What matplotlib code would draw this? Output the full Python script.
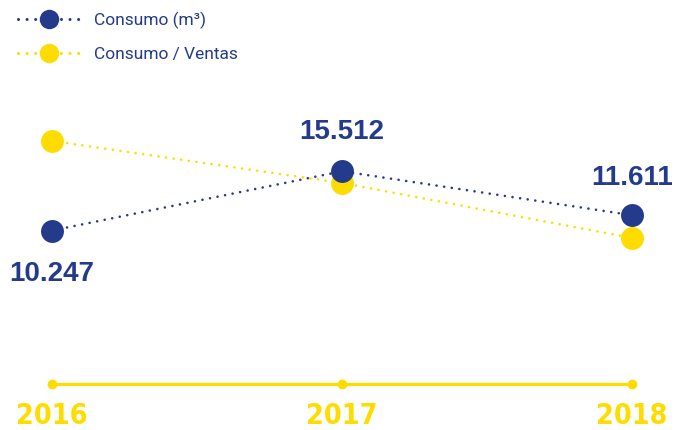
import matplotlib
matplotlib.use("Agg")
import matplotlib.pyplot as plt
from matplotlib.lines import Line2D

# data
years = ["2016", "2017", "2018"]
consumo = [10.247, 15.512, 11.611]
consumo_ventas = [0.84, 0.71, 0.54]
consumo_labels = ["10.247", "15.512", "11.611"]

BLUE = "#243b8c"
YELLOW = "#ffdc00"

fig = plt.figure(figsize=(6.75, 4.3), dpi=100)
ax = fig.add_axes([0, 0, 1, 1])
ax2 = ax.twinx()

x = list(range(len(years)))

# x scale: 2016 -> 52px, 2018 -> 632px
x0 = -52 / 290
ax.set_xlim(x0, x0 + 675 / 290)
ax.set_ylim(-7.455, 30.713)
ax2.set_ylim(-0.054, 1.276)

for a in (ax, ax2):
    a.set_axis_off()

dots = (0, (0.01, 2.9))

ax2.plot(x, consumo_ventas, color=YELLOW, lw=1.9, linestyle=dots,
         dash_capstyle="round", zorder=1)
ax2.plot(x, consumo_ventas, "o", color=YELLOW, ms=16.5, mec="none", zorder=2)

ax.set_zorder(ax2.get_zorder() + 1)
ax.plot(x, consumo, color=BLUE, lw=1.9, linestyle=dots,
        dash_capstyle="round", zorder=3)
ax.plot(x, consumo, "o", color=BLUE, ms=16.5, mec="none", zorder=4)

# value labels
offsets = [-43, 39, 37]
for xi, v, lab, off in zip(x, consumo, consumo_labels, offsets):
    ax.annotate(lab, (xi, v), xytext=(0, off * 0.72), textcoords="offset points",
                ha="center", va="center", fontsize=20, fontweight="bold",
                family="Liberation Sans", color=BLUE)

# bottom axis line
tr = ax.get_xaxis_transform()
ax.plot([x[0], x[-1]], [1 - 384 / 430] * 2, color=YELLOW, lw=2.3,
        transform=tr, solid_capstyle="round", clip_on=False)
ax.plot(x, [1 - 384 / 430] * len(x), "o", color=YELLOW, ms=6,
        transform=tr, clip_on=False)
for xi, yr in zip(x, years):
    ax.text(xi, 1 - 416 / 430, yr, transform=tr, ha="center", va="center",
            fontsize=20.5, fontweight="bold", family="DejaVu Sans",
            fontstretch="condensed", color=YELLOW)

# legend
handles = [
    Line2D([], [], color=BLUE, lw=2.2, linestyle=(0, (0.01, 2.8)),
           dash_capstyle="round", marker="o", ms=14, mec="none"),
    Line2D([], [], color=YELLOW, lw=2.2, linestyle=(0, (0.01, 2.8)),
           dash_capstyle="round", marker="o", ms=14, mec="none"),
]
leg = ax.legend(handles, ["Consumo (m³)", "Consumo / Ventas"], loc="upper left",
                bbox_to_anchor=(18 / 675, 1 - 12 / 430), frameon=False,
                handlelength=3.6, handletextpad=0.75, labelspacing=1.0,
                prop={"family": "Roboto", "size": 12.5},
                borderpad=0, borderaxespad=0)
for t in leg.get_texts():
    t.set_color(BLUE)

fig.savefig("out.png", dpi=100)
